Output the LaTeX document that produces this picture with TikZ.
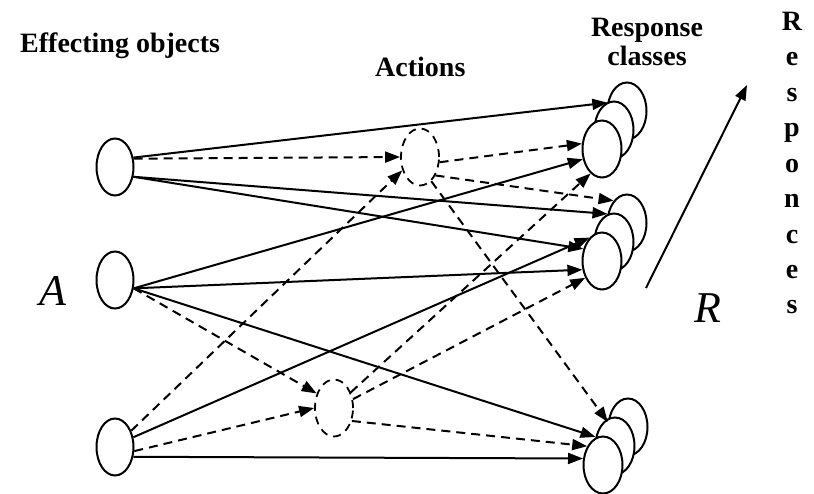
\documentclass[tikz,border=0pt]{standalone}
\usepackage{fontspec}
\setmainfont{Liberation Serif}
\usetikzlibrary{shapes.geometric,arrows.meta}

\begin{document}
\begin{tikzpicture}[x=1pt,y=-1pt,
  obj/.style={ellipse,draw,line width=2pt,minimum width=37pt,minimum height=57pt,inner sep=0pt,fill=white},
  act/.style={ellipse,draw,line width=1.8pt,dash pattern=on 8pt off 6pt,minimum width=38pt,minimum height=57pt,inner sep=0pt},
  cls/.style={ellipse,draw,line width=2pt,minimum width=39pt,minimum height=57pt,inner sep=0pt,fill=white},
  link/.style={line width=2pt,-{Triangle[length=15pt,width=11pt]}},
  dlink/.style={link,dash pattern=on 9pt off 6pt},
  lbl/.style={font=\bfseries\fontsize{28}{30}\selectfont,inner sep=0pt},
  sym/.style={font=\itshape\fontsize{44}{46}\selectfont,inner sep=0pt}]

\useasboundingbox (0,0) rectangle (814,493);

% effecting objects
\node[obj] (L1) at (115,167) {};
\node[obj] (L2) at (115,280) {};
\node[obj] (L3) at (115,447) {};

% actions
\node[act] (T) at (420,157) {};
\node[act] (B) at (334,408) {};

% response classes: three stacked ellipses each, back to front
\foreach \k/\x/\y in {1/602/149, 2/602/261, 3/603/465} {
  \node[cls] (S\k b) at (\x+25,\y-38) {};
  \node[cls] (S\k m) at (\x+12,\y-19) {};
  \node[cls] (S\k f) at (\x,\y) {};
}

% direct effects
\draw[link] (L1.27)  -- (S1b.157);
\draw[link] (L1.-28) -- (S2b.155);
\draw[link] (L1.-28) -- (S2f.147);
\draw[link] (L2.-24) -- (S1f.208);
\draw[link] (L2.-24) -- (S2f.204);
\draw[link] (L2.-24) -- (S3m.155);
\draw[link] (L3.28)  -- (S2f.118);
\draw[link] (L3.-28) -- (S3f.162);

% effects through actions
\draw[dlink] (L1.24)  -- (T.west);
\draw[dlink] (L3.45)  -- (T.217);
\draw[dlink] (L2.-24) -- (B.140);
\draw[dlink] (L3.-12) -- (B.west);
\draw[dlink] (T.-15) -- (S1f.165);
\draw[dlink] (T.-50) -- (S2b.121);
\draw[dlink] (T.-65) -- (S3b.166);
\draw[dlink] (B.43)  -- (S1f.245);
\draw[dlink] (B.25)  -- (S2f.225);
\draw[dlink] (B.-36) -- (S3f.130);

% response axis
\coordinate (Rlo) at (646,288);
\coordinate (Rhi) at (747,85);
\draw[link] (Rlo) -- (Rhi);

% labels
\node[lbl,anchor=base west] (eff) at (20,52) {Effecting objects};
\node[lbl,anchor=base west] (acts) at (375,76) {Actions};
\node[lbl,anchor=base] (resp1) at (647,36) {Response};
\node[lbl,anchor=base] (resp2) at (647,65) {classes};
\node[sym,anchor=base] (Asym) at (53,305) {A};
\node[sym,anchor=base] (Rsym) at (708,322) {R};

\foreach \c/\yy [count=\i] in {R/30, e/65, s/101, p/136, o/172, n/207, c/243, e/278, s/313} {
  \node[lbl,anchor=base] (resp-\i) at (792,\yy) {\c};
}
\end{tikzpicture}
\end{document}
